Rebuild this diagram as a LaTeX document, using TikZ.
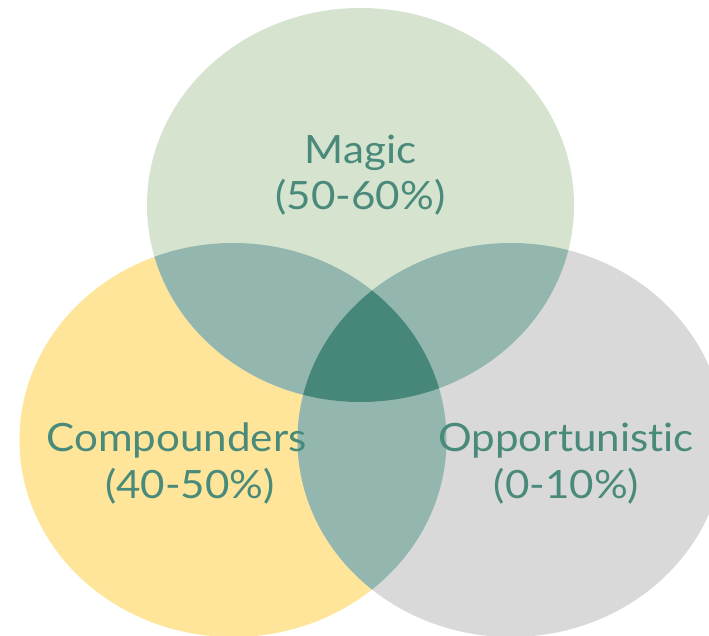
\documentclass[tikz,border=0pt]{standalone}
\usepackage{fontspec}
\setmainfont{Lato}[FakeStretch=1.08,Ligatures={NoCommon,NoRare}]
\definecolor{magicc}{HTML}{D6E3CF}
\definecolor{yelc}{HTML}{FEE599}
\definecolor{grayc}{HTML}{D9D9D9}
\definecolor{lensc}{HTML}{93B7AE}
\definecolor{corec}{HTML}{46877A}
\definecolor{labc}{HTML}{4A8A7B}
\begin{document}
\begin{tikzpicture}[x=1pt,y=-1pt,
  lab/.style={text=labc,font=\fontsize{39}{46}\selectfont,inner sep=0pt,anchor=base}]
\useasboundingbox (0,0) rectangle (709,636);
\clip (0,0) rectangle (709,636);
% base circles
\fill[yelc] (233,440) ellipse [x radius=213.5pt, y radius=197pt];
\fill[grayc] (511,440) ellipse [x radius=213.5pt, y radius=197pt];
\fill[magicc] (360.5,205) ellipse [x radius=213.5pt, y radius=197pt];
% pairwise overlaps
\begin{scope}
  \clip (233,440) ellipse [x radius=213.5pt, y radius=197pt];
  \fill[lensc] (511,440) ellipse [x radius=213.5pt, y radius=197pt];
  \fill[lensc] (360.5,205) ellipse [x radius=213.5pt, y radius=197pt];
\end{scope}
\begin{scope}
  \clip (511,440) ellipse [x radius=213.5pt, y radius=197pt];
  \fill[lensc] (360.5,205) ellipse [x radius=213.5pt, y radius=197pt];
\end{scope}
% triple overlap
\begin{scope}
  \clip (233,440) ellipse [x radius=213.5pt, y radius=197pt];
  \clip (511,440) ellipse [x radius=213.5pt, y radius=197pt];
  \fill[corec] (360.5,205) ellipse [x radius=213.5pt, y radius=197pt];
\end{scope}
% labels
\node[lab] (magic1) at (360.5,164) {Magic};
\node[lab] (magic2) at (360.5,210) {(50-60\%)};
\node[lab] (comp1) at (176.5,451) {Compounders};
\node[lab] (comp2) at (190,498) {(40-50\%)};
\node[lab] (opp1) at (566,451) {Opportunistic};
\node[lab] (opp2) at (566.5,498) {(0-10\%)};
\end{tikzpicture}
\end{document}
